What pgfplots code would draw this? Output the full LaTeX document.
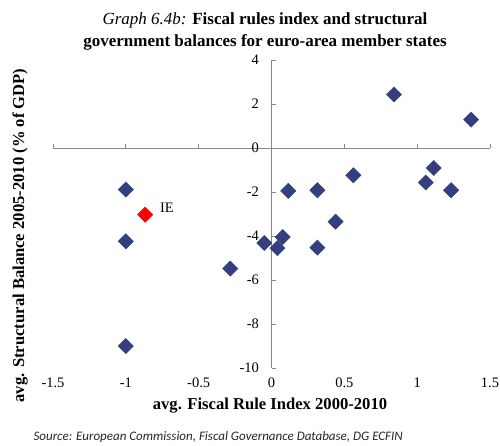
\documentclass[border=0pt]{standalone}
\usepackage{pgfplots}
\pgfplotsset{compat=1.18}
\usepackage{fontspec}
\setmainfont{Liberation Serif}
\newfontfamily\srcfont{Carlito}
\definecolor{navy}{RGB}{51,63,127}
\definecolor{axgray}{RGB}{134,134,134}
\begin{document}
\begin{tikzpicture}
\path[use as bounding box] (-53pt,-77pt) rectangle (447pt,368pt);
\begin{axis}[
 at={(0pt,0pt)}, anchor=south west,
 width=437pt, height=308pt, scale only axis,
 xmin=-1.5, xmax=1.5, ymin=-10, ymax=4,
 axis lines=middle, axis line style={-, draw=axgray, line width=0.9pt},
 xtick={-1.5,-1,...,1.5}, xticklabels={},
 ytick={-10,-8,...,4},
 hide obscured x ticks=false, hide obscured y ticks=false,
 tick style={draw=axgray, line width=0.9pt},
 major tick length=4pt, tick align=inside,
 yticklabel style={font=\fontsize{14.5}{15}\selectfont, xshift=-9pt},
 /pgf/number format/assume math mode=true,
 clip=false,
]
\addplot[only marks, mark=square*, mark size=5.4pt, mark options={rotate=45, fill=navy, draw=navy}] coordinates {
(-1.0,-1.89) (-1.0,-4.24) (-1.0,-9.0) (-0.283,-5.48) (-0.05,-4.32) (0.04,-4.55) (0.077,-4.05)
(0.115,-1.95) (0.315,-1.92) (0.315,-4.53) (0.44,-3.35) (0.562,-1.24) (0.841,2.43)
(1.059,-1.57) (1.114,-0.91) (1.233,-1.92) (1.37,1.29)
};
\addplot[only marks, mark=square*, mark size=5.4pt, mark options={rotate=45, fill=red, draw=red}] coordinates {(-0.867,-3.03)};
\node[anchor=base west, font=\fontsize{14.5}{15}\selectfont, inner sep=0pt] at (axis cs:-0.766,-2.92) {IE};
\end{axis}
\begin{axis}[
 at={(0pt,0pt)}, anchor=south west,
 width=437pt, height=308pt, scale only axis,
 xmin=-1.5, xmax=1.5, ymin=-10, ymax=4,
 axis x line=bottom, axis y line=none,
 x axis line style={draw=none, -},
 xtick={-1.5,-1,...,1.5}, major tick length=0pt, ytick=\empty,
 xticklabel style={font=\fontsize{14.5}{15}\selectfont, yshift=-6pt},
 /pgf/number format/assume math mode=true,
]
\end{axis}
\node[align=center, font=\fontsize{17}{22}\selectfont] at (212pt,337pt) {\textit{Graph 6.4b:} \textbf{Fiscal rules index and structural}\\\textbf{government balances for euro-area member states}};
\node[rotate=90, font=\bfseries\fontsize{16.6}{18}\selectfont] at (-33pt,132.5pt) {avg. Structural Balance 2005-2010 (\% of GDP)};
\node[font=\bfseries\fontsize{16.6}{18}\selectfont] at (217pt,-38pt) {avg. Fiscal Rule Index 2000-2010};
\node[anchor=west, font=\srcfont\itshape\fontsize{13}{15}\selectfont, text=black!85] at (-23pt,-69pt) {Source: European Commission, Fiscal Governance Database, DG ECFIN};
\end{tikzpicture}
\end{document}
